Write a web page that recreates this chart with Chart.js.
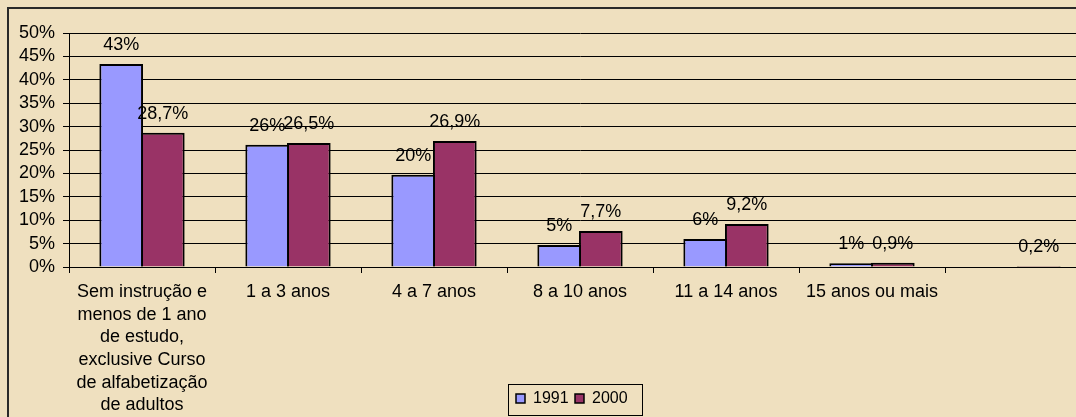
<!DOCTYPE html>
<html>
<head>
<meta charset="utf-8">
<script src="https://cdn.jsdelivr.net/npm/chart.js@4"></script>
<style>
  html, body { margin: 0; padding: 0; overflow: hidden; background: #f0e2c2; }
  #grafico { display: block; }
</style>
</head>
<body>
<canvas id="grafico" width="1100" height="417"></canvas>
<script>
// Dados
const categorias = [
  ['Sem instrução e', 'menos de 1 ano', 'de estudo,', 'exclusive Curso', 'de alfabetização', 'de adultos'],
  '1 a 3 anos',
  '4 a 7 anos',
  '8 a 10 anos',
  '11 a 14 anos',
  '15 anos ou mais',
  ''
];
const valores1991 = [43.4, 26.1, 19.7, 4.7, 6.0, 0.8, null];
const valores2000 = [28.7, 26.5, 26.9, 7.7, 9.2, 0.9, 0.2];
const anos = ['1991', '2000'];
const maxY = 50;
const passoY = 5;

const fonte = "'Liberation Sans', Arial, sans-serif";

// fundo tipo pergaminho + moldura
const fundo = {
  id: 'fundo',
  beforeDraw(chart) {
    const ctx = chart.ctx;
    ctx.save();
    ctx.fillStyle = '#efe0bf';
    ctx.fillRect(0, 0, chart.width, chart.height);
    ctx.strokeStyle = '#2a2a2a';
    ctx.lineWidth = 2;
    ctx.beginPath();
    ctx.moveTo(8, chart.height + 5);
    ctx.lineTo(8, 8);
    ctx.lineTo(chart.width + 5, 8);
    ctx.stroke();
    ctx.restore();
  }
};

// rótulos em cima das barras
const rotulos = {
  id: 'rotulos',
  afterDatasetsDraw(chart) {
    const ctx = chart.ctx;
    ctx.save();
    ctx.font = '18px ' + fonte;
    ctx.fillStyle = '#000';
    ctx.textAlign = 'center';
    ctx.textBaseline = 'middle';
    chart.data.datasets.forEach((ds, i) => {
      chart.getDatasetMeta(i).data.forEach((barra, j) => {
        const v = ds.data[j];
        if (v === null) return;
        const txt = i === 0 ? Math.round(v) + '%' : v.toFixed(1).replace('.', ',') + '%';
        ctx.fillText(txt, barra.x, barra.y - 19);
      });
    });
    ctx.restore();
  }
};

// legenda em caixa, embaixo
const legenda = {
  id: 'legenda',
  afterDraw(chart) {
    const ctx = chart.ctx;
    ctx.save();
    ctx.strokeStyle = '#000';
    ctx.lineWidth = 1;
    ctx.strokeRect(508.5, 384.5, 134, 31);
    ctx.font = '16px ' + fonte;
    ctx.textBaseline = 'middle';
    ctx.textAlign = 'left';
    const xs = [516, 575];
    chart.data.datasets.forEach((ds, i) => {
      ctx.fillStyle = ds.backgroundColor;
      ctx.fillRect(xs[i], 394, 9, 9);
      ctx.lineWidth = 1.5;
      ctx.strokeRect(xs[i], 394, 9, 9);
      ctx.fillStyle = '#000';
      ctx.fillText(ds.label, xs[i] + 17, 399);
    });
    ctx.restore();
  }
};

new Chart(document.getElementById('grafico'), {
  type: 'bar',
  data: {
    labels: categorias,
    datasets: [
      {
        label: anos[0],
        data: valores1991,
        backgroundColor: '#9999ff',
        borderColor: '#000',
        borderWidth: 2,
        categoryPercentage: 0.57,
        barPercentage: 1.05
      },
      {
        label: anos[1],
        data: valores2000,
        backgroundColor: '#993366',
        borderColor: '#000',
        borderWidth: 2,
        categoryPercentage: 0.57,
        barPercentage: 1.05
      }
    ]
  },
  options: {
    responsive: false,
    animation: false,
    devicePixelRatio: 1,
    layout: { padding: { left: 0, top: 33, right: 9, bottom: 0 } },
    plugins: {
      legend: { display: false },
      tooltip: { enabled: false }
    },
    scales: {
      x: {
        grid: { display: true, offset: true, drawOnChartArea: false, color: '#000', tickLength: 6 },
        border: { color: '#000', width: 1 },
        ticks: {
          color: '#000',
          font: { family: fonte, size: 18, lineHeight: 1.255 },
          padding: 8,
          maxRotation: 0,
          autoSkip: false
        },
        afterFit(scale) { scale.height = 150; }
      },
      y: {
        min: 0,
        max: maxY,
        grid: { color: '#000', lineWidth: 1, tickLength: 6 },
        border: { color: '#000', width: 1 },
        ticks: {
          stepSize: passoY,
          autoSkip: false,
          color: '#000',
          padding: 8,
          font: { family: fonte, size: 18 },
          callback: v => v + '%'
        },
        afterFit(scale) { scale.width = 69; }
      }
    }
  },
  plugins: [fundo, rotulos, legenda]
});
</script>
</body>
</html>
